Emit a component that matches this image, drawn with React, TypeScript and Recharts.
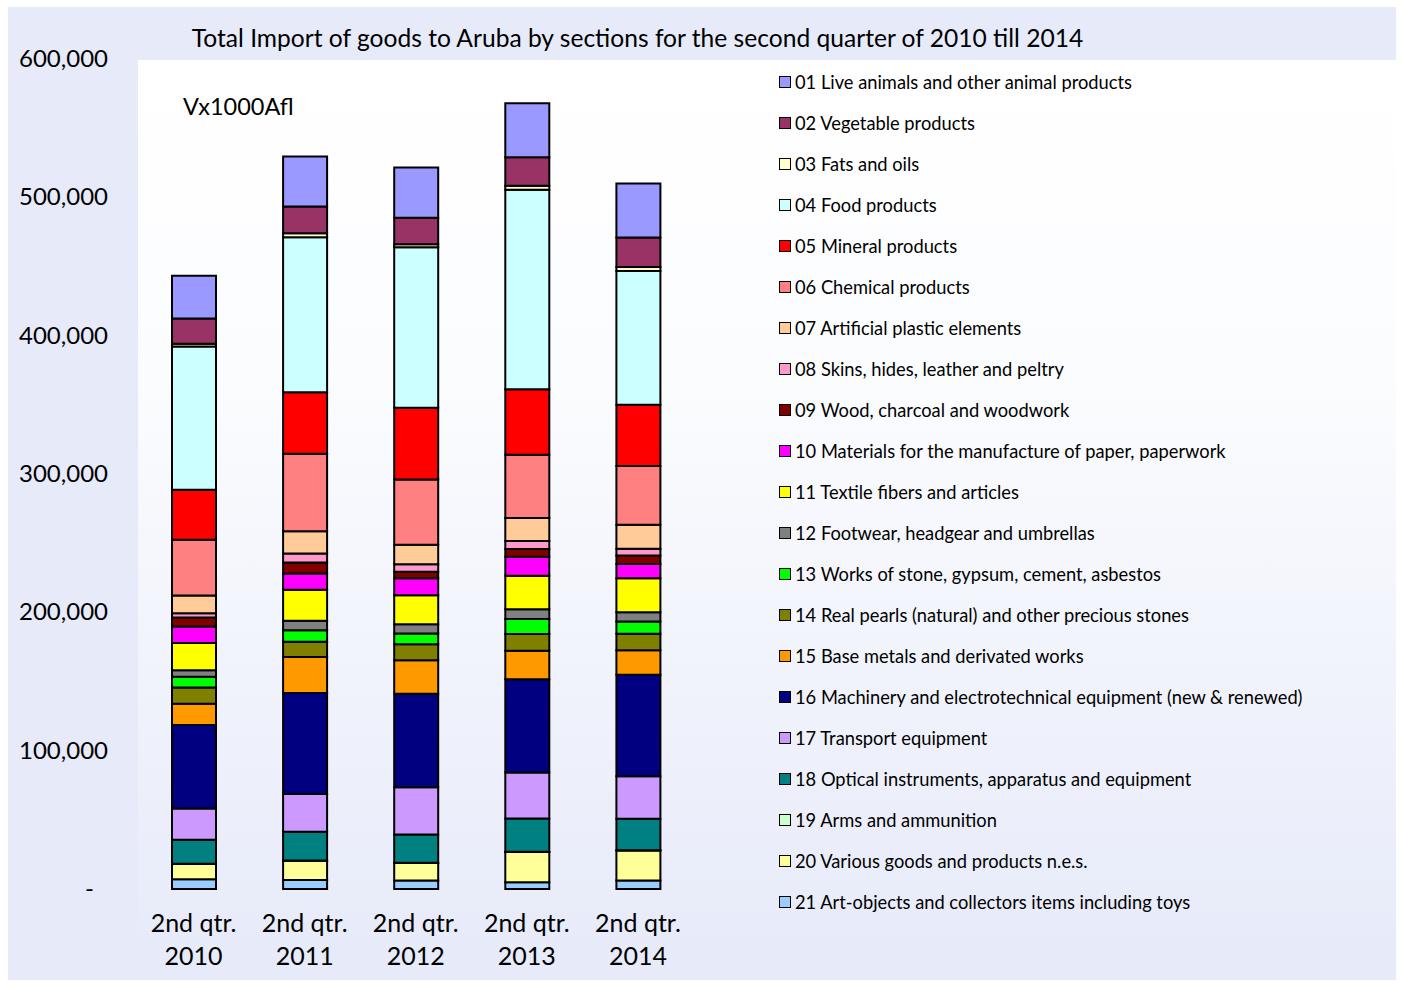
import { BarChart, Bar, XAxis, YAxis, Legend } from "recharts";

const years = ["2010", "2011", "2012", "2013", "2014"];
const quarterLabel = "2nd qtr.";

const sections = [
  "01 Live animals and other animal products",
  "02 Vegetable products",
  "03 Fats and oils",
  "04 Food products",
  "05 Mineral products",
  "06 Chemical products",
  "07 Artificial plastic elements",
  "08 Skins, hides, leather and peltry",
  "09 Wood, charcoal and woodwork",
  "10 Materials for the manufacture of paper, paperwork",
  "11 Textile fibers and articles",
  "12 Footwear, headgear and umbrellas",
  "13 Works of stone, gypsum, cement, asbestos",
  "14 Real pearls (natural) and other precious stones",
  "15 Base metals and derivated works",
  "16 Machinery and electrotechnical equipment (new & renewed)",
  "17 Transport equipment",
  "18 Optical instruments, apparatus and equipment",
  "19 Arms and ammunition",
  "20 Various goods and products n.e.s.",
  "21 Art-objects and collectors items including toys",
];

const sectionColors = [
  "#9999ff", "#993366", "#ffffcc", "#ccffff", "#ff0000", "#ff8080", "#ffcc99",
  "#ff99cc", "#800000", "#ff00ff", "#ffff00", "#808080", "#00ff00", "#808000",
  "#ff9900", "#000080", "#cc99ff", "#008080", "#ccffcc", "#ffff99", "#99ccff",
];

// values x 1000 Afl, sections 01..21
const q2010 = [30900, 18300, 1900, 103600, 36200, 40300, 12700, 3200, 6500, 11800, 19700, 4800, 7700, 11800, 15400, 60300, 22600, 17400, 100, 11100, 7000];
const q2011 = [36200, 19300, 2900, 112100, 44500, 56000, 16100, 6500, 8000, 11600, 22400, 7000, 8200, 11100, 26000, 73000, 27300, 20800, 100, 14000, 6500];
const q2012 = [36200, 19300, 2000, 116100, 51900, 47200, 14000, 5500, 4600, 12300, 21000, 6700, 7700, 11600, 24300, 67500, 34200, 20500, 100, 12600, 6200];
const q2013 = [39100, 20500, 2900, 144300, 47300, 45800, 16600, 5800, 5600, 13700, 24300, 7000, 10900, 12100, 20500, 67500, 33100, 24100, 150, 22000, 4800];
const q2014 = [39100, 21300, 2900, 96600, 44400, 42400, 17400, 4800, 6300, 10300, 24400, 6700, 8900, 11900, 17800, 73300, 30800, 22700, 150, 21700, 6200];

const yTicks = [0, 100000, 200000, 300000, 400000, 500000, 600000];

const yearValues = [q2010, q2011, q2012, q2013, q2014];
const rows = years.map((yr, i) => {
  const row: Record<string, string | number> = { year: yr };
  sections.forEach((_, j) => {
    row["s" + j] = yearValues[i][j];
  });
  return row;
});

const FONT = "Lato, 'Open Sans', sans-serif";
const LAVENDER = "#e6eaf9";

const YTick = (props: any) => {
  const { x, y, payload } = props;
  const v = payload.value as number;
  return (
    <text
      x={v === 0 ? x - 14 : x}
      y={y}
      dy={8}
      textAnchor="end"
      fontSize={24}
      fontFamily={FONT}
      fill="#000"
    >
      {v === 0 ? "-" : v.toLocaleString("en-US")}
    </text>
  );
};

const XTick = (props: any) => {
  const { x, y, payload } = props;
  return (
    <text x={x} y={y} textAnchor="middle" fontSize={25} fontFamily={FONT} fill="#000">
      <tspan x={x} dy={35}>{quarterLabel}</tspan>
      <tspan x={x} dy={33}>{payload.value}</tspan>
    </text>
  );
};

const LegendList = (props: any) => {
  const items = [...(props.payload || [])].sort((a: any, b: any) =>
    String(a.value).localeCompare(String(b.value))
  );
  return (
    <div style={{ fontFamily: FONT, fontSize: 18.3, color: "#000" }}>
      {items.map((it: any) => (
        <div
          key={it.value}
          style={{ height: 41.05, display: "flex", alignItems: "center", whiteSpace: "nowrap" }}
        >
          <span
            style={{
              display: "inline-block",
              width: 10,
              height: 10,
              background: it.color,
              border: "1.5px solid #000",
              marginRight: 4,
            }}
          />
          <span>{it.value}</span>
        </div>
      ))}
    </div>
  );
};

export default function App() {
  return (
    <div style={{ position: "absolute", left: 0, top: 0, width: 1402, height: 981, background: "#fff" }}>
      <div style={{ position: "absolute", left: 8, top: 7, width: 1388, height: 973, background: LAVENDER }} />
      <div
        style={{
          position: "absolute",
          left: 138,
          top: 60,
          width: 1258,
          height: 920,
          background: `linear-gradient(to bottom, #ffffff 0%, #fbfcfe 35%, ${LAVENDER} 100%)`,
        }}
      />
      <div
        style={{
          position: "absolute",
          left: 0,
          width: 1275,
          top: 23,
          textAlign: "center",
          fontFamily: FONT,
          fontSize: 24.6,
          color: "#000",
          whiteSpace: "nowrap",
        }}
      >
        Total Import of goods to Aruba by sections for the second quarter of 2010 till 2014
      </div>
      <div style={{ position: "absolute", left: 183, top: 92, fontFamily: FONT, fontSize: 23.5, color: "#000" }}>
        Vx1000Afl
      </div>
      <div style={{ position: "absolute", left: 0, top: 0 }}>
        <BarChart
          width={1402}
          height={981}
          data={rows}
          margin={{ top: 59, left: 8, right: 708.5, bottom: 12 }}
          barSize={44}
        >
          <XAxis
            dataKey="year"
            axisLine={false}
            tickLine={false}
            height={80}
            tick={<XTick />}
            interval={0}
          />
          <YAxis
            domain={[0, 600000]}
            ticks={yTicks}
            width={130}
            axisLine={false}
            tickLine={false}
            tickMargin={24}
            tick={<YTick />}
          />
          <Legend
            layout="vertical"
            align="center"
            verticalAlign="middle"
            wrapperStyle={{ left: 779, top: 61, width: 610 }}
            content={<LegendList />}
          />
          {sections
            .map((name, j) => (
              <Bar
                key={name}
                dataKey={"s" + j}
                name={name}
                stackId="a"
                fill={sectionColors[j]}
                stroke="#000"
                strokeWidth={2}
                isAnimationActive={false}
              />
            ))
            .reverse()}
        </BarChart>
      </div>
    </div>
  );
}
